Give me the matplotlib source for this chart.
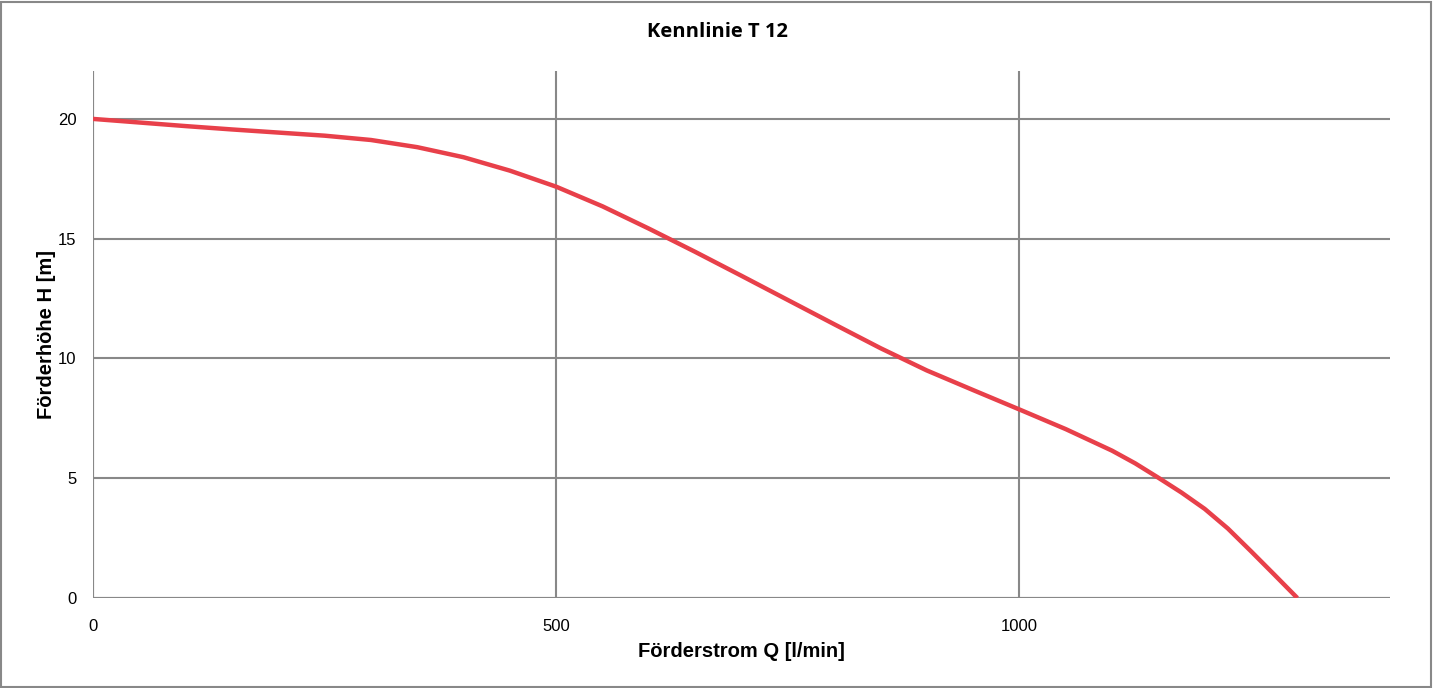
import matplotlib.pyplot as plt
from matplotlib.patches import Rectangle

# === Daten ===
q_lmin = [0, 50, 100, 150, 200, 250, 300, 350, 400, 450, 500, 550, 600, 650, 700,
          750, 800, 850, 900, 950, 1000, 1050, 1100, 1125, 1150, 1175, 1200, 1225,
          1250, 1275, 1300]
h_m = [20.0, 19.85, 19.7, 19.56, 19.43, 19.3, 19.12, 18.82, 18.4, 17.84, 17.17, 16.35,
       15.42, 14.45, 13.45, 12.44, 11.43, 10.43, 9.5, 8.68, 7.87, 7.05, 6.15, 5.62, 5.02,
       4.4, 3.72, 2.9, 1.95, 0.98, 0.0]

x_ticks = [0, 500, 1000]
y_ticks = [0, 5, 10, 15, 20]

TITLE = "Kennlinie T 12"
XLABEL = "Förderstrom Q [l/min]"
YLABEL = "Förderhöhe H [m]"

plt.rcParams["font.family"] = ["Liberation Sans", "DejaVu Sans"]

fig = plt.figure(figsize=(14.34, 6.88), dpi=100)
ax = fig.add_axes([93 / 1434, 1 - 598 / 688, (1390 - 93) / 1434, (598 - 71) / 688])

ax.plot(q_lmin, h_m, color="#E8404A", lw=3.2, solid_capstyle="butt",
        solid_joinstyle="round", zorder=3)

ax.set_xlim(0, 1400)
ax.set_ylim(0, 22)
ax.set_xticks(x_ticks)
ax.set_yticks(y_ticks)
ax.grid(True, color="#888888", lw=1.5)
ax.set_axisbelow(True)
for s in ["top", "right", "left", "bottom"]:
    ax.spines[s].set_visible(False)
ax.axhline(0, color="#888888", lw=1.5, zorder=1)
ax.axvline(0, color="#888888", lw=1.5, zorder=1)
ax.tick_params(length=0, labelsize=12)
ax.tick_params(axis="y", pad=12)
ax.tick_params(axis="x", pad=15)

ax.set_xlabel(XLABEL, fontsize=14.5, fontweight="bold", labelpad=6)
ax.set_ylabel(YLABEL, fontsize=14.5, fontweight="bold", labelpad=1)
fig.text(0.5, 1 - 32 / 688, TITLE, ha="center", va="center",
         fontsize=14.5, fontweight="bold", family=["Open Sans", "DejaVu Sans"])

fig.patches.append(Rectangle((0.001, 0.002), 0.997, 0.995, transform=fig.transFigure,
                             fill=False, edgecolor="#888888", lw=1.5))

fig.savefig("out.png", dpi=100)
plt.close()
